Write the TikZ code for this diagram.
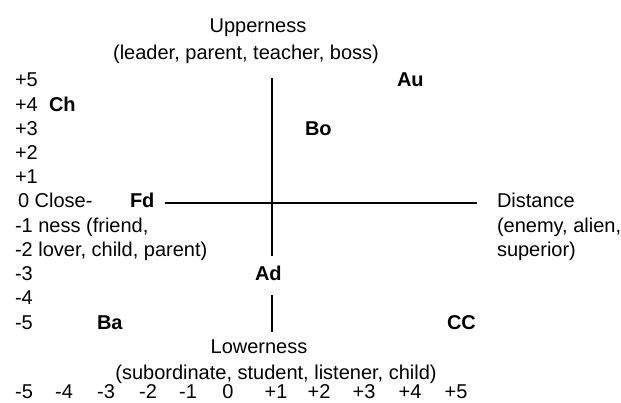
\documentclass[tikz,border=0pt]{standalone}
\usepackage{fontspec}
\setmainfont{Liberation Sans}
\begin{document}
\begin{tikzpicture}[x=1pt,y=-1pt,
  lbl/.style={inner sep=0pt,outer sep=0pt,anchor=base west,font=\fontsize{20}{24}\selectfont},
  clbl/.style={inner sep=0pt,outer sep=0pt,anchor=base,font=\fontsize{20}{24}\selectfont},
  pt/.style={inner sep=0pt,outer sep=0pt,anchor=base west,font=\fontsize{20}{24}\selectfont\bfseries},
  axis/.style={line width=1.8pt,black}]
\useasboundingbox[fill=white] (0,0) rectangle (621,403);
% titles
\node[clbl] (up) at (258,33) {Upperness};
\node[clbl] (upx) at (246,60) {(leader, parent, teacher, boss)};
\node[clbl] (low) at (259,353) {Lowerness};
\node[clbl] (lowx) at (276,379) {(subordinate, student, listener, child)};
% left scale
\node[lbl] (l5) at (15,87) {+5};
\node[lbl] (l4) at (15,111.2) {+4};
\node[lbl] (l3) at (15,135.4) {+3};
\node[lbl] (l2) at (15,159.6) {+2};
\node[lbl] (l1) at (15,183.8) {+1};
\node[lbl] (l0) at (18,208) {0 Close-};
\node[lbl] (lm1) at (15,232.2) {-1 ness (friend,};
\node[lbl] (lm2) at (15,256.4) {-2 lover, child, parent)};
\node[lbl] (lm3) at (15,280.6) {-3};
\node[lbl] (lm4) at (15,304.8) {-4};
\node[lbl] (lm5) at (15,329) {-5};
% right label
\node[lbl] (dist) at (497,208) {Distance};
\node[lbl] (distx) at (497,232.2) {(enemy, alien,};
\node[lbl] (disty) at (497,256.4) {superior)};
% points
\node[pt] (Ch) at (49,111.2) {Ch};
\node[pt] (Au) at (397,87) {Au};
\node[pt] (Bo) at (305,135.4) {Bo};
\node[pt] (Fd) at (130,208) {Fd};
\node[pt] (Ad) at (255,280.6) {Ad};
\node[pt] (Ba) at (97,329) {Ba};
\node[pt] (CC) at (447,329) {CC};
% bottom scale
\foreach \v/\x [count=\i] in {-5/24,-4/64,-3/106,-2/148,-1/188,0/228,+1/276,+2/319,+3/364,+4/410,+5/456}
  \node[clbl] (b\i) at (\x,398) {\v};
% axes
\coordinate (vtop) at (272,78);
\coordinate (vmid) at (272,256);
\coordinate (vlow) at (272,295);
\coordinate (vbot) at (272,332);
\coordinate (hl) at (165,203);
\coordinate (hr) at (477,203);
\draw[axis] (vtop) -- (vmid);
\draw[axis] (vlow) -- (vbot);
\draw[axis] (hl) -- (hr);
\end{tikzpicture}
\end{document}
